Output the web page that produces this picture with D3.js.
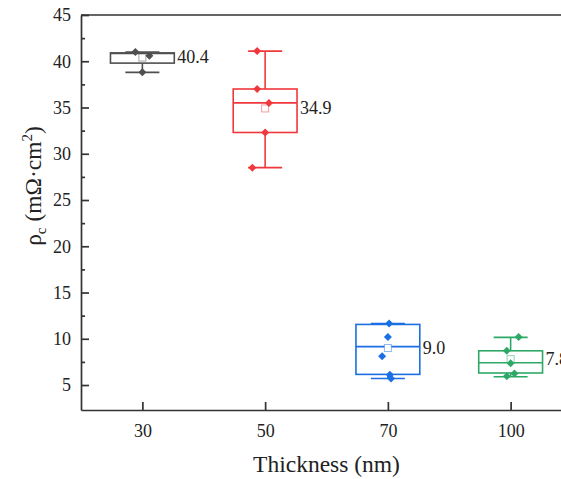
<!DOCTYPE html>
<html>
<head>
<meta charset="utf-8">
<script src="https://cdn.jsdelivr.net/npm/d3@7"></script>
<style>
  body { margin: 0; background: #fff; }
  svg text { font-family: "Liberation Serif", "Times New Roman", serif; }
</style>
</head>
<body>
<svg width="561" height="479"></svg>
<script>
// thickness groups
let categories = ["30", "50", "70", "100"];
let colors = ["#4f4f4f", "#f0373c", "#1b6fe3", "#2ea866"];

// box statistics
let mins    = [38.8, 28.5, 5.7, 5.9];
let q1      = [39.8, 32.3, 6.15, 6.3];
let medians = [40.85, 35.5, 9.15, 7.4];
let q3      = [40.9, 37.0, 11.55, 8.7];
let maxs    = [41.0, 41.1, 11.65, 10.15];
let means   = [40.4, 34.9, 9.0, 7.8];

// individual measurements (and their sideways jitter, as a share of box width)
let points = [
    [41.0, 40.6, 38.8],
    [41.1, 37.0, 35.5, 32.3, 28.5],
    [11.65, 10.2, 8.1, 6.1, 5.7],
    [10.2, 8.7, 7.35, 6.25, 5.95]
];
let jitter = [
    [-0.11, 0.11, 0],
    [-0.125, -0.125, 0.06, 0, -0.2],
    [0.02, 0, -0.09, 0.03, 0.05],
    [0.125, -0.06, 0, 0.06, -0.06]
];

let yTicks = [5, 10, 15, 20, 25, 30, 35, 40, 45];
let yMinor = [7.5, 12.5, 17.5, 22.5, 27.5, 32.5, 37.5, 42.5];

let svg = d3.select("svg");
let mLeft = 81, mRight = 572, mTop = 15, mBottom = 410;

let x = d3.scalePoint().domain(categories).range([mLeft, mRight]).padding(0.5);
let y = d3.scaleLinear().domain([2.3, 45]).range([mBottom, mTop]);

let step = x.step();
let boxW = step * 0.52;
let capW = step * 0.277;

// frame (top and right edges)
svg.append("path")
    .attr("d", `M${mLeft},${mTop}H${mRight}V${mBottom}`)
    .attr("fill", "none")
    .attr("stroke", "#333")
    .attr("stroke-width", 1.7);

svg.append("g")
    .attr("transform", `translate(${mLeft},0)`)
    .call(d3.axisLeft(y).tickValues(yTicks).tickSizeInner(-8).tickSizeOuter(0).tickPadding(10));

svg.append("g")
    .attr("transform", `translate(${mLeft},0)`)
    .call(d3.axisLeft(y).tickValues(yMinor).tickSizeInner(-4).tickSizeOuter(0).tickFormat(""))
    .call(g => g.select(".domain").remove());

svg.append("g")
    .attr("transform", `translate(0,${mBottom})`)
    .call(d3.axisBottom(x).tickSizeInner(-8).tickSizeOuter(0).tickPadding(14));

svg.selectAll(".domain, .tick line")
    .attr("stroke", "#333")
    .attr("stroke-width", 1.7);
svg.selectAll(".tick text")
    .style("font-size", "18px")
    .attr("fill", "#222");

// boxes
categories.forEach((c, i) => {
    let cx = x(c);
    let col = colors[i];
    let g = svg.append("g").attr("stroke", col).attr("stroke-width", 1.6).attr("fill", "none");

    g.append("line").attr("x1", cx).attr("x2", cx).attr("y1", y(q3[i])).attr("y2", y(maxs[i]));
    g.append("line").attr("x1", cx).attr("x2", cx).attr("y1", y(q1[i])).attr("y2", y(mins[i]));
    g.append("line").attr("x1", cx - capW / 2).attr("x2", cx + capW / 2).attr("y1", y(maxs[i])).attr("y2", y(maxs[i]));
    g.append("line").attr("x1", cx - capW / 2).attr("x2", cx + capW / 2).attr("y1", y(mins[i])).attr("y2", y(mins[i]));

    g.append("rect")
        .attr("x", cx - boxW / 2)
        .attr("y", y(q3[i]))
        .attr("width", boxW)
        .attr("height", y(q1[i]) - y(q3[i]));

    g.append("line").attr("x1", cx - boxW / 2).attr("x2", cx + boxW / 2).attr("y1", y(medians[i])).attr("y2", y(medians[i]));

    // mean marker
    svg.append("rect")
        .attr("x", cx - 3.5)
        .attr("y", y(means[i]) - 3.5)
        .attr("width", 7)
        .attr("height", 7)
        .attr("fill", "#fff")
        .attr("stroke", col)
        .attr("stroke-opacity", 0.5)
        .attr("stroke-width", 1);

    // data points
    svg.append("g").selectAll("path")
        .data(points[i])
        .enter().append("path")
        .attr("d", d3.symbol(d3.symbolSquare, 32))
        .attr("transform", (d, j) => `translate(${cx + jitter[i][j] * boxW},${y(d)}) rotate(45)`)
        .attr("fill", col);

    // mean label
    svg.append("text")
        .attr("x", cx + boxW / 2 + 3)
        .attr("y", y(means[i]))
        .attr("dy", "0.33em")
        .style("font-size", "18px")
        .attr("fill", "#222")
        .text(means[i].toFixed(1));
});

// axis titles
svg.append("text")
    .attr("x", (mLeft + mRight) / 2)
    .attr("y", 472)
    .attr("text-anchor", "middle")
    .style("font-size", "23.5px")
    .attr("fill", "#222")
    .text("Thickness (nm)");

let yt = svg.append("text")
    .attr("transform", "translate(41,186) rotate(-90)")
    .attr("text-anchor", "middle")
    .style("font-size", "23.5px")
    .attr("fill", "#222");
yt.append("tspan").text("ρ");
yt.append("tspan").style("font-size", "15px").attr("dy", 5).text("c");
yt.append("tspan").attr("dy", -5).text(" (mΩ·cm");
yt.append("tspan").style("font-size", "15px").attr("dy", -9).text("2");
yt.append("tspan").attr("dy", 9).text(")");
</script>
</body>
</html>
